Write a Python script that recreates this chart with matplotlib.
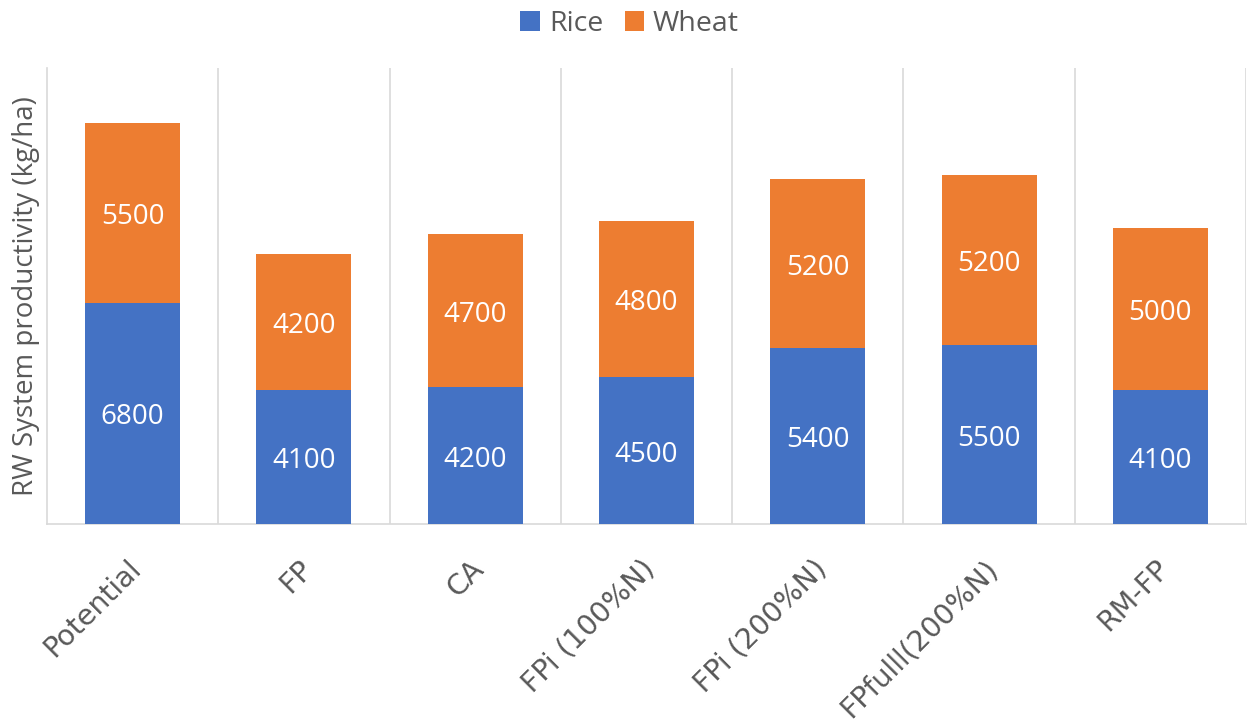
import matplotlib
matplotlib.use("Agg")
import matplotlib.pyplot as plt
import matplotlib.transforms as mtransforms
import numpy as np

categories = ["Potential", "FP", "CA", "FPi (100%N)", "FPi (200%N)", "FPfulll(200%N)", "RM-FP"]
rice = [6800, 4100, 4200, 4500, 5400, 5500, 4100]
wheat = [5500, 4200, 4700, 4800, 5200, 5200, 5000]

plt.rcParams['font.family'] = ['Open Sans', 'DejaVu Sans']
TXT = "#595959"
BLUE = "#4472C4"
ORANGE = "#ED7D31"
GRID = "#D9D9D9"

fig = plt.figure(figsize=(12.47, 7.25), dpi=100)
ax = fig.add_axes([0.0377, 0.2772, 0.9615, 0.629])

x = np.arange(len(categories))
w = 0.555
b1 = ax.bar(x, rice, width=w, color=BLUE, label="Rice", zorder=3)
b2 = ax.bar(x, wheat, width=w, bottom=rice, color=ORANGE, label="Wheat", zorder=3)

down = mtransforms.ScaledTranslation(0, -3 / 72, fig.dpi_scale_trans)
for xi, r, wv in zip(x, rice, wheat):
    ax.text(xi, r / 2, f"{r}", ha="center", va="center", color="white", fontsize=20,
            zorder=4, transform=ax.transData + down)
    ax.text(xi, r + wv / 2, f"{wv}", ha="center", va="center", color="white", fontsize=20,
            zorder=4, transform=ax.transData + down)

ax.set_xlim(-0.5, len(categories) - 0.5)
ax.set_ylim(0, 14000)

# category separators
for sep in np.arange(0.5, len(categories) - 0.5 + 1e-9, 1.0):
    ax.axvline(sep, color=GRID, lw=1.2, zorder=1)

for s in ["top", "right"]:
    ax.spines[s].set_visible(False)
ax.spines["left"].set_color(GRID)
ax.spines["bottom"].set_color(GRID)
ax.spines["left"].set_linewidth(1.2)
ax.spines["bottom"].set_linewidth(1.2)

ax.set_yticks([])
ax.set_xticks(x)
ax.set_xticklabels(categories, rotation=45, ha="right", rotation_mode="anchor",
                   fontsize=20.5, color=TXT, family=['DejaVu Sans'])
ax.tick_params(axis="x", length=0, pad=22)
offset = mtransforms.ScaledTranslation(-4 / 72, 0, fig.dpi_scale_trans)
for lab in ax.get_xticklabels():
    lab.set_transform(lab.get_transform() + offset)

ax.set_ylabel("RW System productivity (kg/ha)", fontsize=20, color=TXT, labelpad=5)

leg = fig.legend(handles=[b1, b2], labels=["Rice", "Wheat"], loc="upper center",
                 bbox_to_anchor=(0.505, 1.022), ncol=2, frameon=False, fontsize=20.5,
                 handlelength=0.7, handleheight=0.7, handletextpad=0.3, columnspacing=0.75)
for t in leg.get_texts():
    t.set_color(TXT)

fig.savefig("out.png", dpi=100)
